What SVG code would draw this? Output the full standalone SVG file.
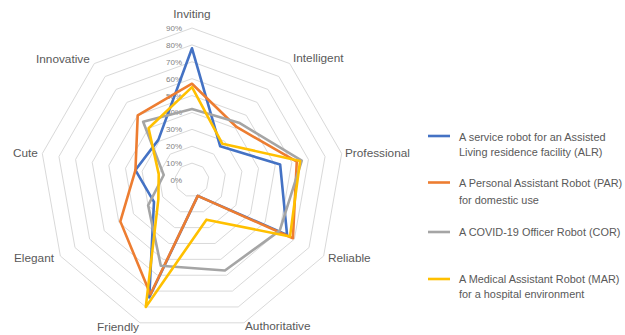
<svg xmlns="http://www.w3.org/2000/svg" xmlns:xlink="http://www.w3.org/1999/xlink" width="625" height="335" viewBox="0 0 625 335">
<style>
.ring{fill:none;stroke:#d9d9d9;stroke-width:1;vector-effect:non-scaling-stroke}
.s{fill:none;stroke-width:2.6;stroke-linejoin:round;vector-effect:non-scaling-stroke}
.tick{font-family:"Liberation Sans",Arial,sans-serif;font-size:8px;fill:#7f7f7f;text-anchor:end}
.cat{font-family:"Liberation Sans",Arial,sans-serif;font-size:11.8px;fill:#595959}
.leg{font-family:"Liberation Sans",Arial,sans-serif;font-size:10.9px;fill:#595959}
.ll{stroke-width:2.6;fill:none}
</style>
<defs>
<polygon id="ring" class="ring" points="0,-100 64.28,-76.6 98.48,-17.36 86.6,50 34.2,93.97 -34.2,93.97 -86.6,50 -98.48,-17.36 -64.28,-76.6"/>
</defs>
<rect width="625" height="335" fill="#ffffff"/>
<g id="grid" transform="translate(192 180)">
<use xlink:href="#ring" transform="scale(0.16889)"/>
<use xlink:href="#ring" transform="scale(0.33778)"/>
<use xlink:href="#ring" transform="scale(0.50667)"/>
<use xlink:href="#ring" transform="scale(0.67556)"/>
<use xlink:href="#ring" transform="scale(0.84444)"/>
<use xlink:href="#ring" transform="scale(1.01333)"/>
<use xlink:href="#ring" transform="scale(1.18222)"/>
<use xlink:href="#ring" transform="scale(1.35111)"/>
<use xlink:href="#ring" transform="scale(1.52)"/>
</g>
<g id="ticks">
<text class="tick" x="182" y="183">0%</text>
<text class="tick" x="182" y="166.1">10%</text>
<text class="tick" x="182" y="149.2">20%</text>
<text class="tick" x="182" y="132.3">30%</text>
<text class="tick" x="182" y="115.4">40%</text>
<text class="tick" x="182" y="98.6">50%</text>
<text class="tick" x="182" y="81.7">60%</text>
<text class="tick" x="182" y="64.8">70%</text>
<text class="tick" x="182" y="47.9">80%</text>
<text class="tick" x="182" y="31">90%</text>
</g>
<g id="series" transform="translate(192 180) scale(1.6889)">
<polygon id="ALR" class="s" stroke="#4472c4" points="0,-78 16.71,-19.92 52.19,-9.2 56.29,32.5 3.42,9.4 -25.31,69.54 -22.52,13 -33.48,-5.9 -19.93,-23.75"/>
<polygon id="PAR" class="s" stroke="#ed7d31" points="0,-57 26.35,-31.41 62.04,-10.94 59.75,34.5 3.42,9.4 -24.62,67.66 -42.43,24.5 -33.48,-5.9 -32.14,-38.3"/>
<polygon id="COR" class="s" stroke="#a5a5a5" points="0,-42 28.28,-33.7 65,-11.46 51.96,30 19.49,53.56 -18.47,50.74 -25.98,15 -16.74,-2.95 -28.93,-34.47"/>
<polygon id="MAR" class="s" stroke="#ffc000" points="0,-55 18,-21.45 64.01,-11.28 58.02,33.5 8.55,23.49 -27.36,75.18 -19.92,11.5 -19.7,-3.47 -25.71,-30.64"/>
</g>
<g id="categories">
<text class="cat" x="192" y="18" text-anchor="middle">Inviting</text>
<text class="cat" x="293" y="62">Intelligent</text>
<text class="cat" x="345" y="157">Professional</text>
<text class="cat" x="328" y="262">Reliable</text>
<text class="cat" x="245" y="330">Authoritative</text>
<text class="cat" x="97" y="331">Friendly</text>
<text class="cat" x="14" y="262">Elegant</text>
<text class="cat" x="13" y="157">Cute</text>
<text class="cat" x="36" y="63">Innovative</text>
</g>
<g id="legend">
<line class="ll" stroke="#4472c4" x1="428" y1="136" x2="450" y2="136"/>
<text class="leg" x="459" y="140.5">A service robot for an Assisted</text>
<text class="leg" x="459" y="156">Living residence facility (ALR)</text>
<line class="ll" stroke="#ed7d31" x1="428" y1="182.5" x2="450" y2="182.5"/>
<text class="leg" x="459" y="186.5">A Personal Assistant Robot (PAR)</text>
<text class="leg" x="459" y="203.5">for domestic use</text>
<line class="ll" stroke="#a5a5a5" x1="428" y1="232" x2="450" y2="232"/>
<text class="leg" x="459" y="236">A COVID-19 Officer Robot (COR)</text>
<line class="ll" stroke="#ffc000" x1="428" y1="279" x2="450" y2="279"/>
<text class="leg" x="459" y="283">A Medical Assistant Robot (MAR)</text>
<text class="leg" x="459" y="298">for a hospital environment</text>
</g>
</svg>
